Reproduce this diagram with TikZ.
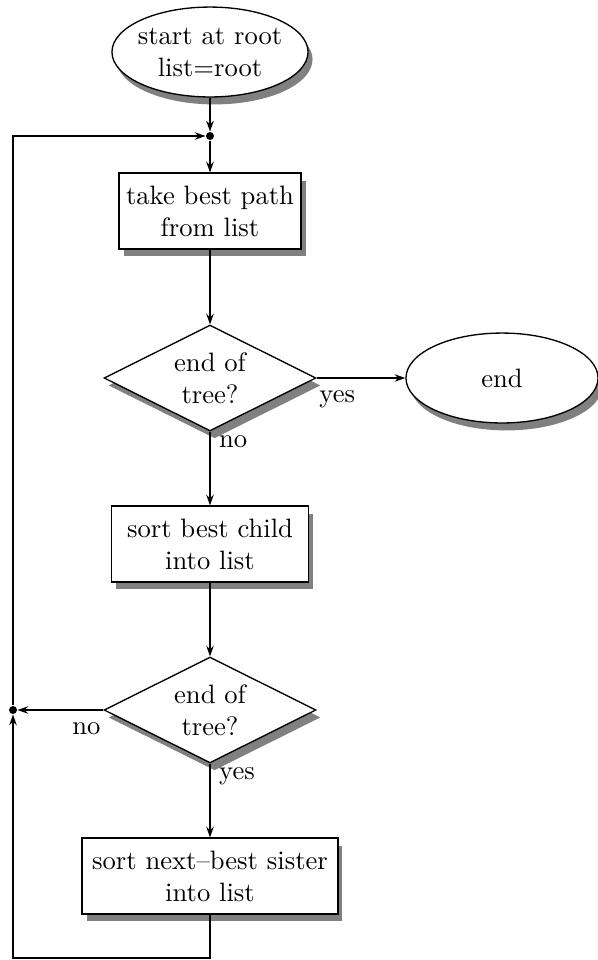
\documentclass[tikz,border=0pt]{standalone}
\usepackage{tikz}
\usetikzlibrary{shapes.geometric,shadows,arrows.meta}

\tikzset{
	ombre/.style={drop shadow={shadow xshift=1.7pt,shadow yshift=-2.8pt,fill=black!50,opacity=1}},
	terminal/.style={ellipse,draw,fill=white,line width=0.5pt,inner xsep=-2pt,inner ysep=0pt,
		minimum width=73.7pt,minimum height=33.8pt,align=center,ombre},
	boite/.style={rectangle,draw,fill=white,line width=0.5pt,inner sep=0pt,
		minimum height=28.5pt,align=center,ombre},
	test/.style={diamond,aspect=2,draw,fill=white,line width=0.5pt,inner sep=0pt,
		minimum width=79.7pt,minimum height=39.8pt,align=center,ombre},
	jonction/.style={circle,fill,inner sep=0pt,minimum size=3pt},
	fleche/.style={line width=0.5pt,-{Stealth[length=4pt,width=2.8pt,inset=1.3pt]}},
	cote/.style={inner xsep=0.8pt,inner ysep=4.5pt},
	dessous/.style={inner xsep=3.2pt,inner ysep=1.3pt}
}

\begin{document}
\begin{tikzpicture}[x=0.3759pt,y=0.3759pt]
	\def\largeur{598}
	\def\hauteur{960}
\useasboundingbox (0,0) rectangle (\largeur,-\hauteur);

%Noeuds
\node[terminal] (start) at (210,-52) {start at root\\list=root};
\node[jonction] (jn1) at (210,-136) {};
\node[boite,minimum width=68.4pt] (take) at (210,-211) {take best path\\from list};
\node[test] (dia1) at (210,-378) {end of\\tree?};
\node[terminal,minimum width=72.2pt] (stop) at (502,-378) {end};
\node[boite,minimum width=74.1pt] (child) at (210,-544) {sort best child\\into list};
\node[test] (dia2) at (210,-710) {end of\\tree?};
\node[jonction] (jn2) at (13,-710) {};
\node[boite,minimum width=96.2pt] (sister) at (210,-876) {sort next--best sister\\into list};
\coordinate (coin) at (13,-958);

%Fleches
\draw[fleche] (start) -- (jn1);
\draw[fleche] (jn1) -- (take);
\draw[fleche] (take) -- (dia1);
\draw[fleche] (dia1.east) -- node[cote,pos=0,anchor=north west] {yes} (stop);
\draw[fleche] (dia1.south) -- node[dessous,pos=0,anchor=north west] {no} (child);
\draw[fleche] (child) -- (dia2);
\draw[fleche] (dia2.west) -- node[cote,pos=0,anchor=north east] {no} (jn2);
\draw[fleche] (dia2.south) -- node[dessous,pos=0,anchor=north west] {yes} (sister);

%Boucle
\draw[fleche] (sister.south) |- (coin) -- (jn2);
\draw[fleche] (jn2) |- (jn1);

\end{tikzpicture}
\end{document}
